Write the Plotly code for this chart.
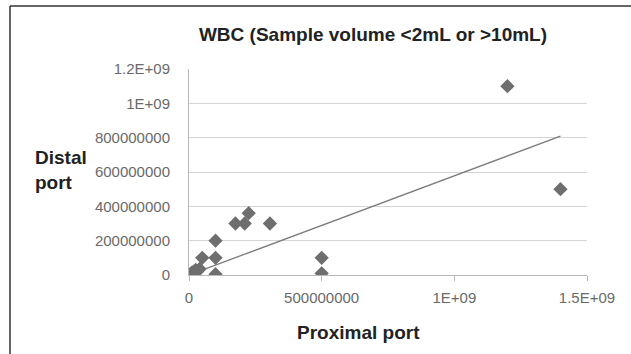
import numpy as np
import plotly.graph_objects as go

proximal = [2e6, 5e6, 8e6, 1.2e7, 1.8e7, 2.5e7, 3.0e7, 4.0e7, 5.0e7, 1.0e8, 1.0e8, 1.0e8,
            1.75e8, 2.1e8, 2.25e8, 3.05e8, 5.0e8, 5.0e8, 1.2e9, 1.4e9]
distal = [1e6, 6e6, 3e6, 1.5e7, 1.0e7, 3.0e7, 2.0e7, 3.5e7, 1.0e8, 2.0e8, 1.0e8, 5e6,
          3.0e8, 3.0e8, 3.6e8, 3.0e8, 1.0e8, 1.0e7, 1.1e9, 5.0e8]

x_tickvals = [0, 5e8, 1e9, 1.5e9]
x_ticktext = ["0", "500000000", "1E+09", "1.5E+09"]
y_tickvals = [0, 2e8, 4e8, 6e8, 8e8, 1e9, 1.2e9]
y_ticktext = ["0", "200000000", "400000000", "600000000", "800000000", "1E+09", "1.2E+09"]

title = "WBC (Sample volume <2mL or >10mL)"
x_title = "Proximal port"
y_title = "Distal<br>port"

# linear trendline through the origin (least squares)
xa = np.array(proximal)
ya = np.array(distal)
slope = float((xa * ya).sum() / (xa * xa).sum())
tx = np.array([0.0, xa.max()])
ty = slope * tx

FONT = "Liberation Sans, Arial, sans-serif"

L, T, W, H = 189, 69, 398, 206  # target plot area in window pixels

def px(xw):
    return (xw - L) / W

def py(yw):
    return (T + H - yw) / H

fig = go.Figure()
fig.add_trace(go.Scatter(x=tx, y=ty, mode="lines",
                         line=dict(color="#7a7a7a", width=1.3), hoverinfo="skip"))
fig.add_trace(go.Scatter(x=proximal, y=distal, mode="markers",
                         marker=dict(symbol="diamond", size=11, color="#6e6e6e"),
                         hoverinfo="skip"))

fig.update_layout(
    width=631, height=354,
    margin=dict(l=L, r=631 - L - W, t=T, b=354 - T - H),
    paper_bgcolor="white", plot_bgcolor="white",
    showlegend=False,
    font=dict(family=FONT, color="#6a6a6a", size=15),
    title=dict(text=title, x=373 / 631, xanchor="center",
               y=1 - 34 / 354, yanchor="middle",
               font=dict(family=FONT, size=19, color="#222222", weight="bold")),
    xaxis=dict(range=[0, 1.5e9], tickvals=x_tickvals, ticktext=x_ticktext,
               showgrid=False, zeroline=False, showline=True, linecolor="#b8b8b8",
               linewidth=1, ticks="outside", ticklen=5, tickcolor="#b8b8b8",
               tickfont=dict(size=15, color="#6a6a6a"), ticklabelstandoff=4),
    yaxis=dict(range=[0, 1.2e9], tickvals=y_tickvals, ticktext=y_ticktext,
               showgrid=True, gridcolor="#d4d4d4", gridwidth=1.2, zeroline=False,
               showline=True, linecolor="#b8b8b8", linewidth=1,
               ticks="", tickfont=dict(size=15, color="#6a6a6a"), ticklabelstandoff=15),
)

fig.add_annotation(text=x_title, xref="paper", yref="paper",
                   x=px(358), y=py(332), xanchor="center", yanchor="middle",
                   showarrow=False, font=dict(family=FONT, size=19, color="#222222", weight="bold"))
fig.add_annotation(text=y_title, xref="paper", yref="paper", align="left",
                   x=px(33), y=py(170), xanchor="left", yanchor="middle",
                   showarrow=False, font=dict(family=FONT, size=19, color="#222222", weight="bold"))

# outer frame (left and top edges visible)
fig.add_shape(type="line", xref="paper", yref="paper",
              x0=px(10), x1=px(10), y0=py(6), y1=py(380),
              line=dict(color="#333333", width=1.5))
fig.add_shape(type="line", xref="paper", yref="paper",
              x0=px(10), x1=px(660), y0=py(6), y1=py(6),
              line=dict(color="#333333", width=1.5))

fig.write_html("out.html", config={"displayModeBar": False},
               post_script="document.body.style.margin='0';document.body.style.overflow='hidden';")
